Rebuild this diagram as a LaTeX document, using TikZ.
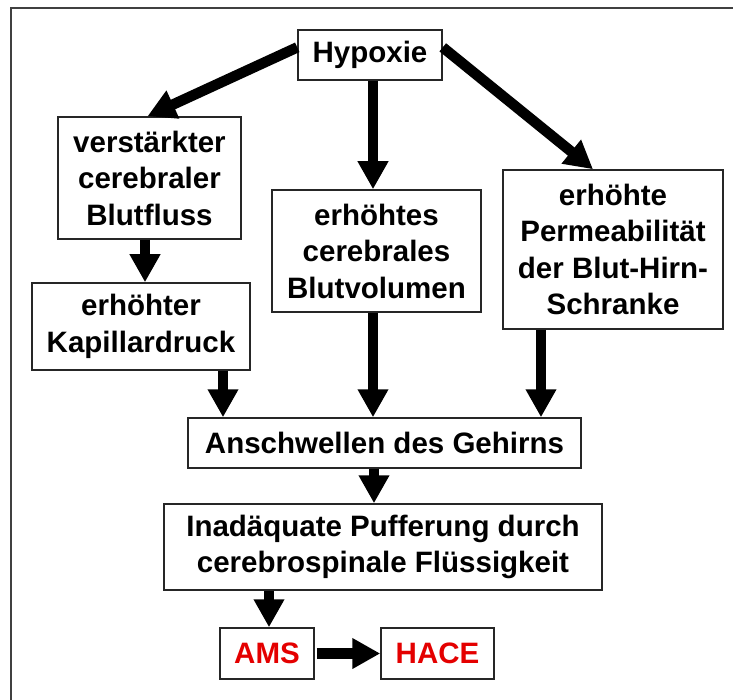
\documentclass[tikz,border=0pt]{standalone}
\usepackage{fontspec}
\setmainfont{Liberation Sans}
\usetikzlibrary{arrows.meta,calc}
\definecolor{amsred}{RGB}{228,0,0}
\begin{document}
\begin{tikzpicture}[x=1pt,y=-1pt,
  box/.style={draw=black!85,line width=1.5pt,fill=white,inner sep=0pt,align=center,
    font=\bfseries\fontsize{29.5}{36.5}\selectfont},
  arr/.style={line width=10.5pt,-{Triangle[length=28pt,width=29pt]}},
  redtext/.style={text=amsred}
]
\useasboundingbox (0,0) rectangle (733,700);
\fill[white] (0,0) rectangle (733,700);
\begin{scope}
  \clip (0,0) rectangle (733,700);
  \draw[black!75,line width=2pt] (11,8) rectangle (760,720);
\end{scope}

\node[box,minimum width=144pt,minimum height=50pt] (hyp) at (370,55) {Hypoxie};
\node[box,minimum width=183pt,minimum height=122pt] (vcb) at (149.5,178) {verstärkter\\cerebraler\\Blutfluss};
\node[box,minimum width=209pt,minimum height=122pt] (ecb) at (376.5,251) {erhöhtes\\cerebrales\\Blutvolumen};
\node[box,minimum width=220pt,minimum height=159pt] (perm) at (613,249.5) {erhöhte\\Permeabilität\\der Blut-Hirn-\\Schranke};
\node[box,minimum width=218pt,minimum height=87pt] (kap) at (141,326.5) {erhöhter\\Kapillardruck};
\node[box,minimum width=393pt,minimum height=50pt] (ansch) at (384.5,443) {Anschwellen des Gehirns};
\node[box,minimum width=438pt,minimum height=86pt] (inad) at (383,547) {Inadäquate Pufferung durch\\cerebrospinale Flüssigkeit};
\node[box,redtext,minimum width=94pt,minimum height=51pt] (ams) at (267,653.5) {AMS};
\node[box,redtext,minimum width=113pt,minimum height=51pt] (hace) at (437.5,653.5) {HACE};

\coordinate (xa) at (145,0);
\coordinate (xb) at (223,0);
\coordinate (xc) at (373,0);
\coordinate (xd) at (541,0);
\coordinate (xe) at (374,0);
\coordinate (xf) at (269,0);

\draw[arr] (hyp.174) -- ([xshift=-2pt]vcb.north);
\draw[arr] (hyp.south -| xc) -- (ecb.north -| xc);
\draw[arr] (hyp.6) -- ([xshift=-20pt]perm.north);
\draw[arr] (vcb.south -| xa) -- (kap.north -| xa);
\draw[arr] (kap.south -| xb) -- (ansch.north -| xb);
\draw[arr] (ecb.south -| xc) -- (ansch.north -| xc);
\draw[arr] (perm.south -| xd) -- (ansch.north -| xd);
\draw[arr] (ansch.south -| xe) -- (inad.north -| xe);
\draw[arr] (inad.south -| xf) -- (ams.north -| xf);
\draw[arr] ([xshift=2pt]ams.east) -- (hace.west);
\end{tikzpicture}
\end{document}
